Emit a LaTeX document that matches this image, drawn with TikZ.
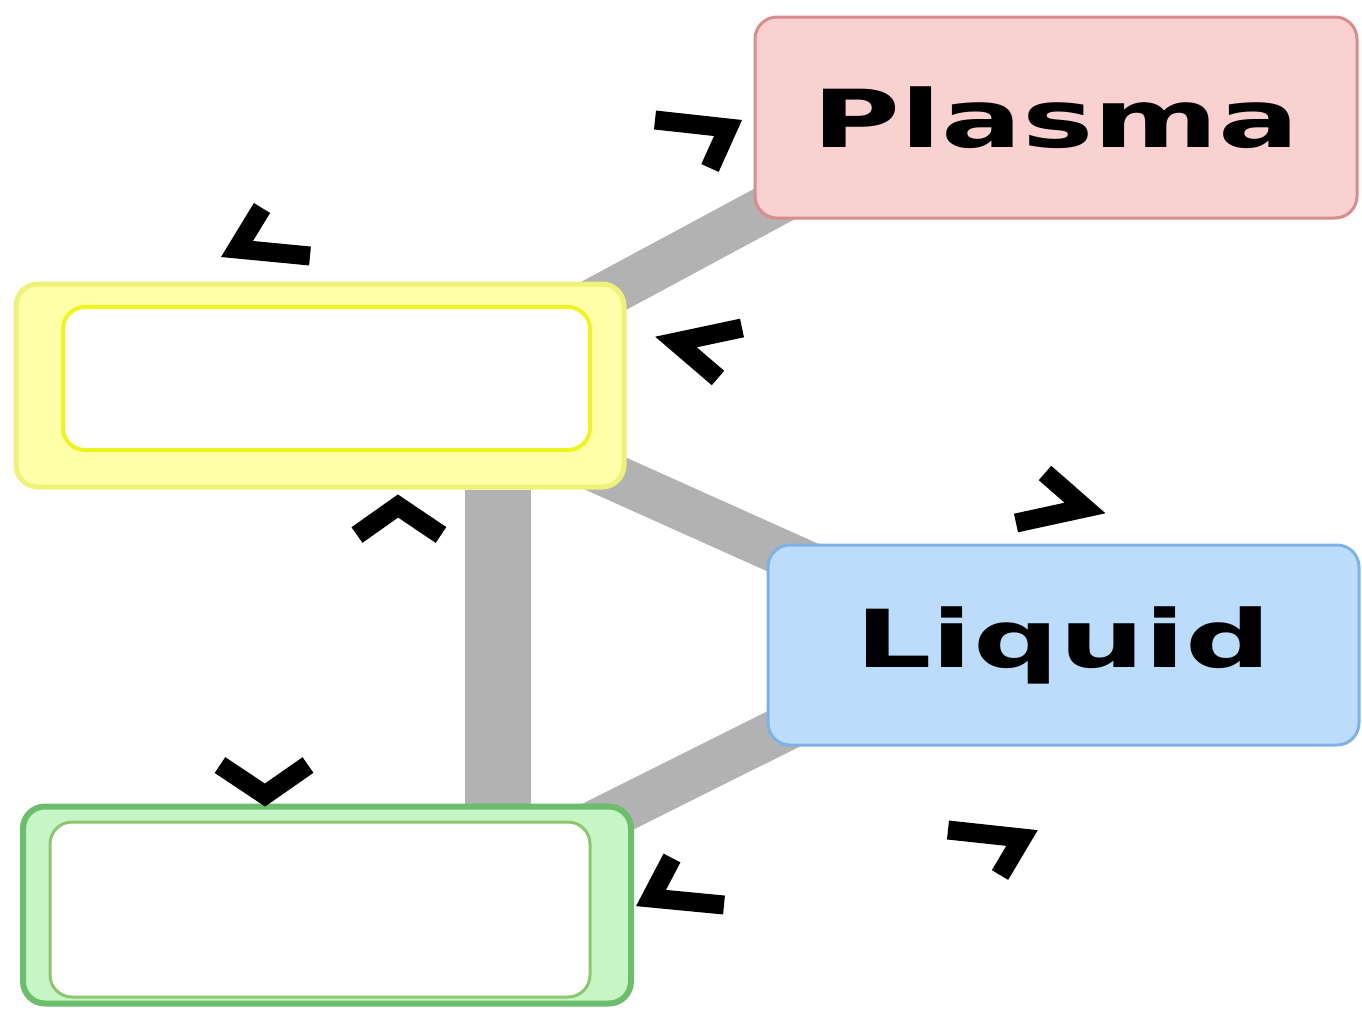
\documentclass[tikz,border=0pt]{standalone}
\usepackage{fontspec}
\setmainfont{DejaVu Sans}
\usetikzlibrary{calc,backgrounds}
\definecolor{bandgray}{RGB}{178,178,178}
\definecolor{plfill}{RGB}{249,209,209}
\definecolor{pldraw}{RGB}{216,140,140}
\definecolor{lqfill}{RGB}{187,220,250}
\definecolor{lqdraw}{RGB}{126,178,228}
\definecolor{yofill}{RGB}{255,255,170}
\definecolor{yodraw}{RGB}{238,242,120}
\definecolor{yidraw}{RGB}{240,244,30}
\definecolor{gofill}{RGB}{198,245,198}
\definecolor{godraw}{RGB}{108,190,108}
\definecolor{gidraw}{RGB}{140,198,110}
\tikzset{
  box/.style={rectangle, rounded corners=22pt, inner sep=0pt, line width=3pt},
  inbox/.style={rectangle, rounded corners=22pt, inner sep=0pt, fill=white},
  band/.style={draw=bandgray, line width=46pt},
  chev/.style={draw=black, line width=19pt, line join=miter, line cap=butt},
  lbl/.style={font=\fontsize{80}{90}\selectfont\bfseries}
}
\begin{document}
\begin{tikzpicture}[x=1pt,y=-1pt]
\useasboundingbox (0,0) rectangle (1362,1009);
% nodes
\node[box, fill=plfill, draw=pldraw, minimum width=602pt, minimum height=201pt, lbl] (plasma) at (1056,117.5) {\scalebox{1.5}[1]{Plasma}};
\node[box, fill=lqfill, draw=lqdraw, minimum width=591pt, minimum height=200pt, lbl] (liquid) at (1063.5,645) {\scalebox{1.5}[1]{Liquid}};
\node[box, fill=yofill, draw=yodraw, line width=5pt, minimum width=608pt, minimum height=203pt] (ybox) at (320,385.5) {};
\node[inbox, draw=yidraw, line width=4pt, minimum width=527pt, minimum height=143pt] (yin) at (326.5,378.5) {};
\node[box, fill=gofill, draw=godraw, line width=6pt, minimum width=608pt, minimum height=197pt] (gbox) at (327,905) {};
\node[inbox, draw=gidraw, line width=3pt, minimum width=540pt, minimum height=175pt] (gin) at (320,909.5) {};
\coordinate (vx) at (498,0);
% connectors
\begin{scope}[on background layer]
\fill[white] (0,0) rectangle (1362,1009);
\draw[band] ($(ybox.center)+(0,63)$) -- ($(plasma.center)+(0,-65)$);
\draw[band] ($(ybox.center)+(0,-40)$) -- ($(liquid.center)+(0,34)$);
\draw[band] ($(liquid.center)+(0,-56)$) -- ($(gbox.center)+(0,52)$);
\draw[draw=bandgray, line width=66pt] (ybox.south -| vx) -- (gbox.north -| vx);
\end{scope}
% chevrons
\draw[chev] (655,120) -- (728,128) -- (710,168);
\draw[chev] (262,208) -- (237,249) -- (310,256);
\draw[chev] (742,328) -- (676,342) -- (718,378);
\draw[chev] (1045,473) -- (1085,508) -- (1016,523);
\draw[chev] (357,535) -- (398,506) -- (441,535);
\draw[chev] (220,765) -- (265,795) -- (308,765);
\draw[chev] (672,858) -- (651,898) -- (724,905);
\draw[chev] (948,830) -- (1022,838) -- (1000,875);
\end{tikzpicture}
\end{document}
